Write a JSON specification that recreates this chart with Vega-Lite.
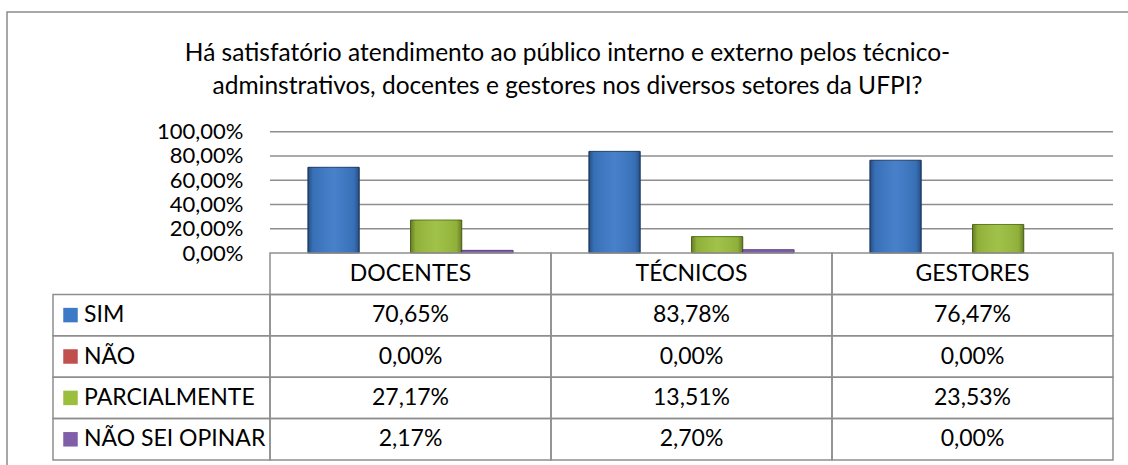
{
  "$schema": "https://vega.github.io/schema/vega-lite/v6.json",
  "width": 1121,
  "height": 453,
  "autosize": {"type": "none"},
  "padding": {"left": 7, "top": 12, "right": 0, "bottom": 0},
  "background": "white",
  "title": {
    "text": ["Há satisfatório atendimento ao público interno e externo pelos técnico-", "adminstrativos, docentes e gestores nos diversos setores da UFPI?"],
    "anchor": "middle",
    "frame": "group",
    "orient": "top",
    "baseline": "top",
    "offset": 0,
    "dy": 87,
    "font": "Lato",
    "fontSize": 24.5,
    "fontWeight": "normal",
    "lineHeight": 33,
    "color": "#000000"
  },
  "datasets": {
    "main": [
      {"grupo": "DOCENTES", "resposta": "SIM", "valor": 0.7065},
      {"grupo": "DOCENTES", "resposta": "NÃO", "valor": 0},
      {"grupo": "DOCENTES", "resposta": "PARCIALMENTE", "valor": 0.2717},
      {"grupo": "DOCENTES", "resposta": "NÃO SEI OPINAR", "valor": 0.0217},
      {"grupo": "TÉCNICOS", "resposta": "SIM", "valor": 0.8378},
      {"grupo": "TÉCNICOS", "resposta": "NÃO", "valor": 0},
      {"grupo": "TÉCNICOS", "resposta": "PARCIALMENTE", "valor": 0.1351},
      {"grupo": "TÉCNICOS", "resposta": "NÃO SEI OPINAR", "valor": 0.027},
      {"grupo": "GESTORES", "resposta": "SIM", "valor": 0.7647},
      {"grupo": "GESTORES", "resposta": "NÃO", "valor": 0},
      {"grupo": "GESTORES", "resposta": "PARCIALMENTE", "valor": 0.2353},
      {"grupo": "GESTORES", "resposta": "NÃO SEI OPINAR", "valor": 0}
    ],
    "grade": [
      {"tick": 0.2}, {"tick": 0.4}, {"tick": 0.6}, {"tick": 0.8}, {"tick": 1}
    ]
  },
  "data": {"name": "main"},
  "layer": [
    {
      "layer": [
        {
          "data": {"name": "grade"},
          "mark": {"type": "rule", "color": "#8E8E8E", "strokeWidth": 1.5},
          "encoding": {
            "x": {"datum": "DOCENTES", "type": "nominal", "bandPosition": 0,
                  "scale": {"domain": ["DOCENTES", "TÉCNICOS", "GESTORES"], "paddingInner": 0, "paddingOuter": 0.4947, "align": 0.946},
                  "axis": null},
            "x2": {"datum": "GESTORES", "bandPosition": 1},
            "y": {"field": "tick", "type": "quantitative", "title": null,
                  "scale": {"domain": [-1.7477, 1.9868], "zero": false, "nice": false},
                  "axis": {"orient": "left", "offset": -263, "values": [0, 0.2, 0.4, 0.6, 0.8, 1], "format": ".2%",
                           "labelFont": "Lato", "labelFontSize": 22, "labelColor": "#000000", "labelPadding": 27,
                           "ticks": false, "domain": false, "grid": false, "title": null, "labelOverlap": false}}
          }
        },
        {
          "transform": [{"filter": "datum.valor > 0"}],
          "mark": {"type": "bar", "strokeWidth": 1},
          "encoding": {
            "x": {"field": "grupo", "type": "nominal", "axis": null,
                  "scale": {"domain": ["DOCENTES", "TÉCNICOS", "GESTORES"], "paddingInner": 0, "paddingOuter": 0.4947, "align": 0.946}},
            "xOffset": {"field": "resposta", "type": "nominal",
                        "scale": {"domain": ["SIM", "NÃO", "PARCIALMENTE", "NÃO SEI OPINAR"], "paddingInner": 0, "paddingOuter": 0.739}},
            "y": {"field": "valor", "type": "quantitative", "title": null,
                  "scale": {"domain": [-1.7477, 1.9868], "zero": false, "nice": false},
                  "axis": {"orient": "left", "offset": -263, "values": [0, 0.2, 0.4, 0.6, 0.8, 1], "format": ".2%",
                           "labelFont": "Lato", "labelFontSize": 22, "labelColor": "#000000", "labelPadding": 27,
                           "ticks": false, "domain": false, "grid": false, "title": null, "labelOverlap": false}},
            "y2": {"datum": 0},
            "color": {"field": "resposta", "type": "nominal", "legend": null,
                      "scale": {"domain": ["SIM", "NÃO", "PARCIALMENTE", "NÃO SEI OPINAR"], "range": ["#3C79C6", "#C0504D", "#9BBE3E", "#7F5FA8"]}},
            "stroke": {"field": "resposta", "type": "nominal", "legend": null,
                       "scale": {"domain": ["SIM", "NÃO", "PARCIALMENTE", "NÃO SEI OPINAR"], "range": ["#1F3E6A", "#8C3836", "#5E7A1E", "#5C4280"]}}
          }
        },
        {
          "transform": [{"filter": "datum.valor > 0.05"}],
          "mark": {"type": "bar", "strokeWidth": 0,
                   "fill": {"gradient": "linear", "x1": 0, "y1": 0, "x2": 1, "y2": 0,
                            "stops": [
                              {"offset": 0, "color": "rgba(0,0,0,0.35)"},
                              {"offset": 0.1, "color": "rgba(0,0,0,0.08)"},
                              {"offset": 0.5, "color": "rgba(255,255,255,0.06)"},
                              {"offset": 0.9, "color": "rgba(0,0,0,0.08)"},
                              {"offset": 1, "color": "rgba(0,0,0,0.35)"}
                            ]}},
          "encoding": {
            "x": {"field": "grupo", "type": "nominal", "axis": null},
            "xOffset": {"field": "resposta", "type": "nominal"},
            "y": {"field": "valor", "type": "quantitative", "title": null,
                  "axis": {"orient": "left", "offset": -263, "values": [0, 0.2, 0.4, 0.6, 0.8, 1], "format": ".2%",
                           "labelFont": "Lato", "labelFontSize": 22, "labelColor": "#000000", "labelPadding": 27,
                           "ticks": false, "domain": false, "grid": false, "title": null, "labelOverlap": false}},
            "y2": {"datum": 0}
          }
        }
      ]
    },
    {
      "layer": [
        {
          "mark": {"type": "rect", "filled": false, "color": "#8E8E8E", "strokeWidth": 1.5},
          "encoding": {
            "x": {"field": "grupo", "type": "nominal", "axis": null,
                  "scale": {"domain": ["DOCENTES", "TÉCNICOS", "GESTORES"], "paddingInner": 0, "paddingOuter": 0.4947, "align": 0.946}},
            "y": {"field": "resposta", "type": "nominal", "axis": null,
                  "scale": {"domain": ["header", "SIM", "NÃO", "PARCIALMENTE", "NÃO SEI OPINAR"], "range": [241, 448], "paddingInner": 0, "paddingOuter": 0}}
          }
        },
        {
          "transform": [{"filter": "datum.resposta === 'SIM'"}],
          "mark": {"type": "rect", "filled": false, "color": "#8E8E8E", "strokeWidth": 1.5},
          "encoding": {
            "x": {"field": "grupo", "type": "nominal", "axis": null},
            "y": {"datum": "header", "type": "nominal", "axis": null}
          }
        },
        {
          "mark": {"type": "text", "font": "Lato", "fontSize": 23, "color": "#000000", "baseline": "middle", "align": "center"},
          "encoding": {
            "x": {"field": "grupo", "type": "nominal", "axis": null},
            "y": {"field": "resposta", "type": "nominal", "axis": null},
            "text": {"field": "valor", "type": "quantitative", "format": ".2%"}
          }
        },
        {
          "transform": [{"filter": "datum.resposta === 'SIM'"}],
          "mark": {"type": "text", "font": "Lato", "fontSize": 23, "color": "#000000", "baseline": "middle", "align": "center"},
          "encoding": {
            "x": {"field": "grupo", "type": "nominal", "axis": null},
            "y": {"datum": "header", "type": "nominal", "axis": null},
            "text": {"field": "grupo", "type": "nominal"}
          }
        }
      ]
    },
    {
      "transform": [{"filter": "datum.grupo === 'DOCENTES'"}],
      "layer": [
        {
          "mark": {"type": "rect", "filled": false, "color": "#8E8E8E", "strokeWidth": 1.5},
          "encoding": {
            "x": {"datum": "label", "type": "nominal", "axis": null,
                  "scale": {"domain": ["label"], "range": [46, 263], "paddingInner": 0, "paddingOuter": 0}},
            "y": {"field": "resposta", "type": "nominal", "axis": null,
                  "scale": {"domain": ["header", "SIM", "NÃO", "PARCIALMENTE", "NÃO SEI OPINAR"], "range": [241, 448], "paddingInner": 0, "paddingOuter": 0}}
          }
        },
        {
          "mark": {"type": "square", "size": 210, "filled": true, "opacity": 1, "xOffset": 17.5},
          "encoding": {
            "x": {"datum": "label", "type": "nominal", "bandPosition": 0, "axis": null},
            "y": {"field": "resposta", "type": "nominal", "axis": null},
            "color": {"field": "resposta", "type": "nominal", "legend": null}
          }
        },
        {
          "mark": {"type": "text", "font": "Lato", "fontSize": 23, "color": "#000000", "baseline": "middle", "align": "left", "xOffset": 31},
          "encoding": {
            "x": {"datum": "label", "type": "nominal", "bandPosition": 0, "axis": null},
            "y": {"field": "resposta", "type": "nominal", "axis": null},
            "text": {"field": "resposta", "type": "nominal"}
          }
        }
      ]
    }
  ],
  "resolve": {"scale": {"x": "independent", "y": "independent"}},
  "config": {
    "locale": {"number": {"decimal": ",", "thousands": ".", "grouping": [3], "currency": ["R$", ""]}},
    "view": {"stroke": "#8C8C8C", "strokeWidth": 1.5, "strokeDash": [1121, 1574, 453]},
    "font": "Lato"
  }
}
